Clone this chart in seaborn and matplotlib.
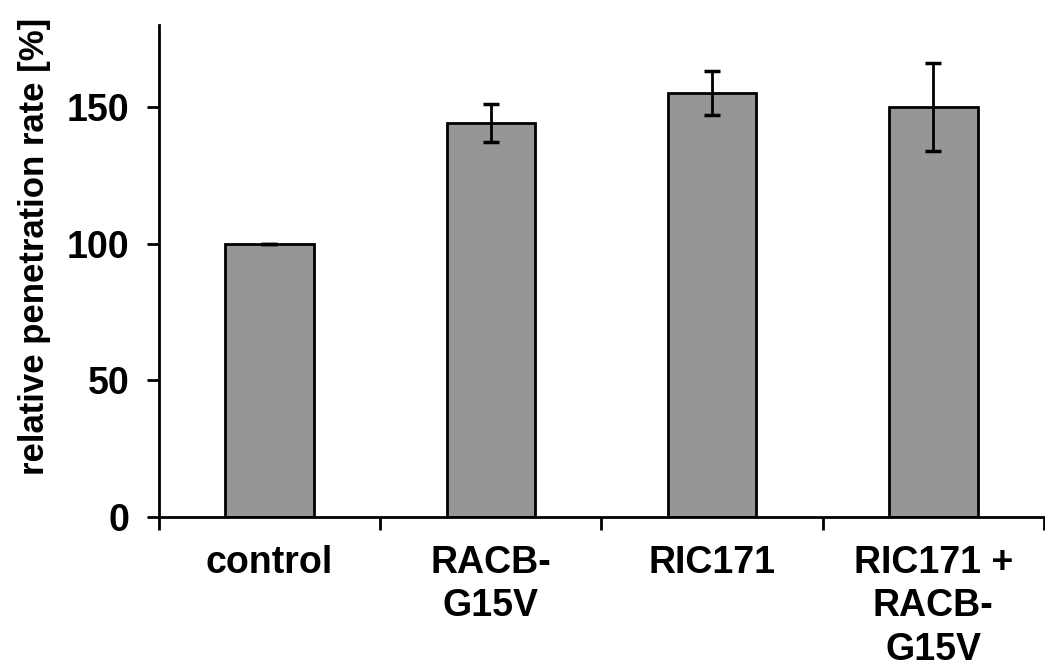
import numpy as np
import pandas as pd
import matplotlib
matplotlib.use("Agg")
import matplotlib.pyplot as plt
import seaborn as sns

categories = ["control", "RACB-\nG15V", "RIC171", "RIC171 +\nRACB-\nG15V"]
values = [100, 144, 155, 150]
errors = [0, 7, 8, 16]
y_ticks = [0, 50, 100, 150]

sns.set_style("white")
plt.rcParams['font.family'] = ['Liberation Sans', 'DejaVu Sans']
plt.rcParams['font.weight'] = 'bold'
plt.rcParams['text.color'] = 'black'
plt.rcParams['axes.labelcolor'] = 'black'
plt.rcParams['xtick.color'] = 'black'
plt.rcParams['ytick.color'] = 'black'

df = pd.DataFrame({"group": categories, "rate": values})

fig = plt.figure(figsize=(10.45, 6.69), dpi=100)
ax = fig.add_axes([0.152, 0.227, 0.847, 0.736])

sns.barplot(data=df, x="group", y="rate", color="#969696", saturation=1,
            edgecolor="black", linewidth=2, width=0.4, ax=ax)
ax.errorbar(np.arange(len(values)), values, yerr=errors, fmt="none",
            ecolor="black", elinewidth=2, capsize=5.5, capthick=2.5)

ax.set_xlim(-0.5, len(categories) - 0.5)
ax.set_ylim(0, 180)
ax.set_yticks(y_ticks)
ax.set_yticklabels([str(t) for t in y_ticks], fontsize=27, fontweight='bold')

# boundary ticks as major, labels on minor at centres
ax.set_xticks(np.arange(len(categories) + 1) - 0.5)
ax.set_xticklabels([])
ax.set_xticks(np.arange(len(categories)), minor=True)
ax.set_xticklabels(categories, minor=True, fontsize=27, fontweight='bold',
                   linespacing=1.27, va='top')
ax.tick_params(axis='x', which='minor', length=0, pad=20)
ax.tick_params(axis='both', which='major', direction='out', length=9,
               width=2, color='black', bottom=True, left=True)
ax.tick_params(axis='y', pad=12)

ax.set_xlabel("")
ax.set_ylabel("relative penetration rate [%]", fontsize=25, fontweight='bold')
ax.yaxis.set_label_coords(-0.122, 0.55)

sns.despine(ax=ax)
for s in ["left", "bottom"]:
    ax.spines[s].set_linewidth(2)
    ax.spines[s].set_color("black")

fig.savefig("out.png", dpi=100)
